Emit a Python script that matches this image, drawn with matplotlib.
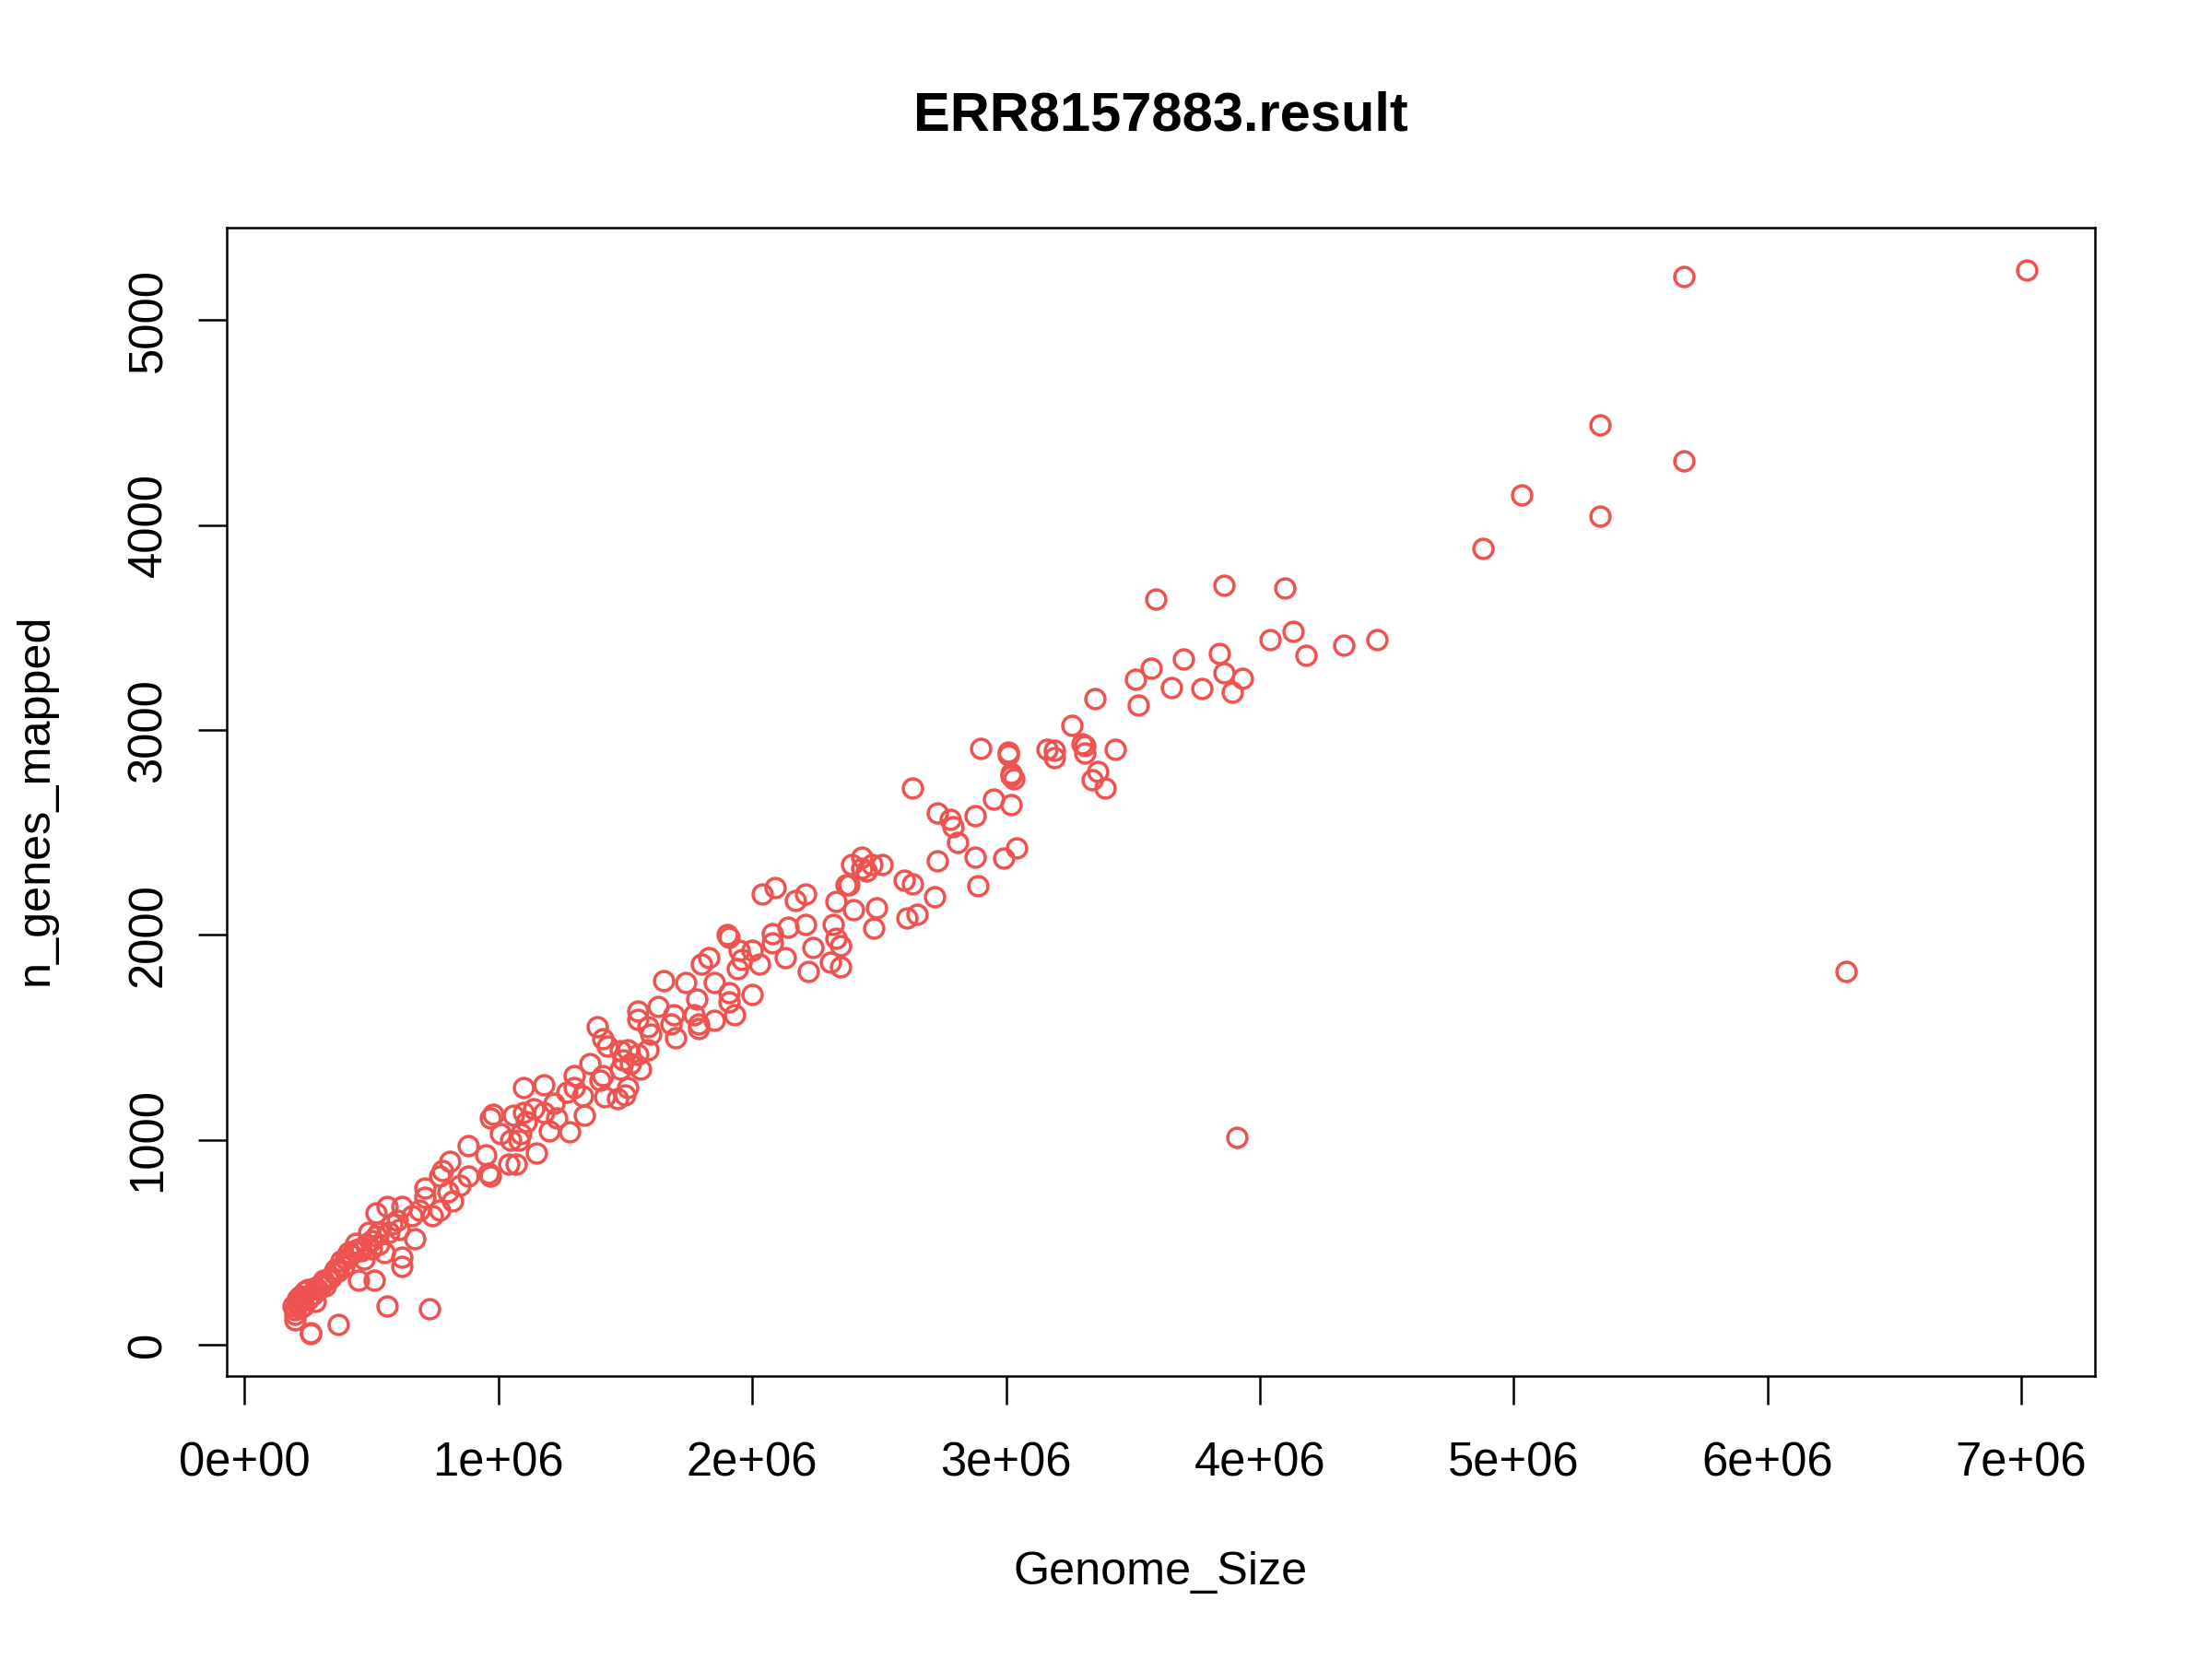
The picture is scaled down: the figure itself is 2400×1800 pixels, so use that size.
import numpy as np
import matplotlib
matplotlib.use("Agg")
import matplotlib.pyplot as plt

plt.rcParams['font.family'] = ['Liberation Sans', 'DejaVu Sans']

titulo = "ERR8157883.result"
etiqueta_x = "Genome_Size"
etiqueta_y = "n_genes_mapped"

# tamaño del genoma en Mb (se pasa a pb abajo) y genes mapeados
genome_mb = [
    # dispersos / atipicos
    7.02, 5.67, 5.34, 5.67, 5.03, 5.34, 4.88, 3.91, 6.31,
    # zona 2.9-4.5 Mb
    3.59, 3.86, 4.10, 4.13, 4.04, 4.18, 4.33, 4.46, 3.70, 3.84,
    3.57, 3.51, 3.86, 3.93, 3.65, 3.77, 3.89, 3.52, 3.35, 3.26,
    3.16, 3.19, 3.19, 3.30, 3.31, 3.31, 3.43, 3.01, 3.01, 2.90,
    3.02, 3.02, 3.03, 3.36, 3.34, 3.39, 2.95, 3.02,
    # zona 2.0-3.0 Mb
    2.63, 2.88, 2.73, 2.78, 2.79, 2.81, 3.04, 2.99, 2.88, 2.73,
    2.89, 2.72, 2.63, 2.60, 2.65, 2.61, 2.49, 2.48, 2.40, 2.33,
    2.32, 2.21, 2.14, 2.17, 2.21, 2.09, 2.37, 2.38, 2.39, 2.43,
    2.43, 2.47, 2.51, 2.45, 2.04,
    # zona 1.0-2.4 Mb
    2.08, 2.33, 2.35, 2.24, 2.08, 2.13, 2.22, 2.31, 2.35, 1.90,
    1.91, 1.96, 1.95, 2.00, 2.03, 1.94, 1.83, 1.80, 1.65, 1.74,
    1.85, 1.78, 1.91, 2.00, 1.91, 1.93, 1.85, 1.79, 1.79, 1.77,
    1.69, 1.68, 1.70, 1.63, 1.55, 1.55, 1.59, 1.60, 1.39, 1.41,
    1.43, 1.48, 1.51, 1.55, 1.59, 1.49, 1.52, 1.56, 1.48, 1.36,
    1.41, 1.40, 1.42, 1.47, 1.51, 1.50, 1.30, 1.30, 1.33, 1.34,
    1.28, 1.27, 1.18, 1.10, 1.14, 1.18, 1.22, 1.23, 1.20, 1.10,
    1.09, 1.15, 1.07, 1.08, 1.11,
    # zona 0.5-1.1 Mb
    0.88, 0.97, 0.98, 1.06, 1.01, 1.05, 1.04, 0.95, 0.96, 0.97,
    0.81, 0.78, 0.77, 0.88, 0.85, 0.71, 0.71, 0.80, 0.82, 0.77,
    0.69, 0.62, 0.56, 0.52, 0.74, 0.66,
    # zona baja
    0.20, 0.26, 0.26, 0.37, 0.56, 0.73, 0.51, 0.45, 0.62, 0.62,
    0.67, 0.28, 0.21, 0.25, 0.31, 0.37, 0.41, 0.39, 0.47, 0.44,
    0.49, 0.55, 0.61, 0.53,
    0.19, 0.20, 0.21, 0.22, 0.23, 0.24, 0.20, 0.22, 0.25, 0.27,
    0.28, 0.30, 0.21, 0.23, 0.26, 0.29, 0.33, 0.35, 0.32, 0.34,
    0.36, 0.38, 0.40, 0.42, 0.43, 0.45, 0.48, 0.50, 0.52, 0.46,
    0.58, 0.60, 0.57, 0.50, 0.53,
]

n_genes = [
    5247, 5213, 4491, 4312, 4147, 4044, 3886, 1011, 1823,
    3639, 3706, 3694, 3482, 3442, 3366, 3415, 3443, 3348, 3374,
    3300, 3247, 3278, 3251, 3207, 3202, 3187, 3122, 3152, 3023,
    2904, 2901, 2864, 2931, 2923, 2886, 2904, 2894, 2879, 2909,
    2789, 2775, 2760, 2797, 2757, 2719, 2663, 2636,
    2715, 2584, 2596, 2566, 2529, 2454, 2424, 2375, 2380, 2360,
    2241, 2186, 2249, 2268, 2101, 2082, 2134, 2033, 2122, 2164,
    2052, 2052, 2037, 2167, 2201, 2231, 2245, 2245, 2346, 2380,
    2328, 2342, 2346, 2313, 2200,
    2007, 1985, 1948, 1940, 1962, 1888, 1821, 1866, 1843, 2000,
    1990, 1881, 1926, 1925, 1858, 1836, 1888, 1858, 1776, 1769,
    1769, 1687, 1717, 1709, 1672, 1612, 1582, 1568, 1545, 1612,
    1612, 1568, 1500, 1650, 1627, 1590, 1553, 1515, 1553, 1493,
    1456, 1434, 1441, 1418, 1441, 1389, 1374, 1344, 1344, 1374,
    1314, 1292, 1210, 1203, 1255, 1218, 1314, 1255, 1217, 1121,
    1038, 1233, 1270, 1255, 1150, 1135, 1180, 1106, 1046, 1135,
    1031, 934, 881, 1001, 1091,
    971, 1106, 1127, 1121, 1031, 1001, 882, 927, 837, 822,
    897, 852, 822, 822, 778, 763, 718, 748, 703, 659,
    659, 674, 674, 644, 629, 629,
    120, 60, 55, 100, 190, 175, 315, 315, 385, 430,
    520, 210, 225, 270, 315, 360, 450, 385, 420, 495,
    550, 450, 565, 550,
    190, 170, 210, 240, 190, 260, 150, 180, 220, 250,
    280, 290, 200, 230, 240, 270, 320, 350, 290, 330,
    370, 410, 420, 440, 460, 470, 490, 510, 530, 460,
    590, 610, 550, 470, 490,
]

genome_size = np.array(genome_mb) * 1e6
n_genes = np.array(n_genes)

x_ticks = [0, 1e6, 2e6, 3e6, 4e6, 5e6, 6e6, 7e6]
x_tick_labels = ["0e+00", "1e+06", "2e+06", "3e+06", "4e+06", "5e+06", "6e+06", "7e+06"]
y_ticks = [0, 1000, 2000, 3000, 4000, 5000]

color_puntos = "#EF5350"

fig = plt.figure(figsize=(8, 6), dpi=300)
ax = fig.add_axes([0.1025, 0.1706, 0.8446, 0.6922])

ax.plot(genome_size, n_genes, linestyle="none", marker="o", markersize=5.0,
        markerfacecolor="none", markeredgecolor=color_puntos, markeredgewidth=0.85)

ax.set_xlim(-0.07e6, 7.29e6)
ax.set_ylim(-152, 5452)
ax.set_xticks(x_ticks)
ax.set_xticklabels(x_tick_labels)
ax.set_yticks(y_ticks)
ax.set_yticklabels([str(v) for v in y_ticks], rotation=90, va="center")

ax.tick_params(axis="both", direction="out", length=7.4, width=0.6, labelsize=12.2)
ax.tick_params(axis="x", pad=9.5)
ax.tick_params(axis="y", pad=7)

for s in ax.spines.values():
    s.set_linewidth(0.6)

fig.text(0.5248, 0.930, titulo, ha="center", va="center", fontsize=14.3, fontweight="bold")
fig.text(0.5248, 0.052, etiqueta_x, ha="center", va="center", fontsize=12.1)
fig.text(0.016, 0.518, etiqueta_y, ha="center", va="center", fontsize=12.1, rotation=90)

fig.savefig("out.png", dpi=300)
